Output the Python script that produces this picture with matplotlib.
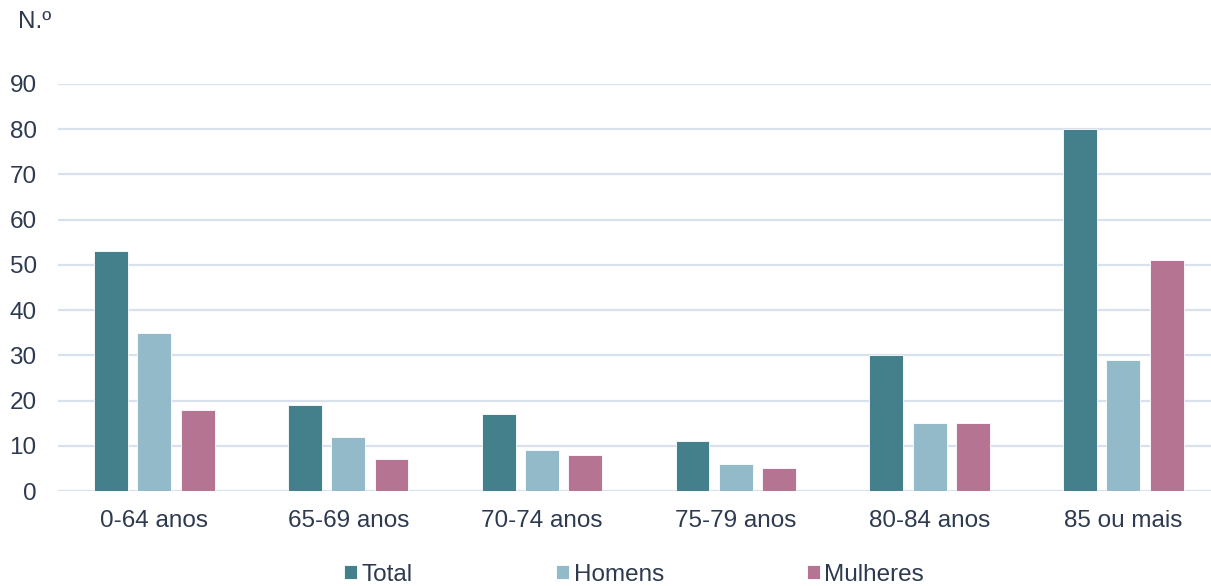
import numpy as np
import matplotlib.pyplot as plt

plt.rcParams['font.family'] = ['Liberation Sans', 'DejaVu Sans']

categories = ['0-64 anos', '65-69 anos', '70-74 anos', '75-79 anos', '80-84 anos', '85 ou mais']
total = [53, 19, 17, 11, 30, 80]
homens = [35, 12, 9, 6, 15, 29]
mulheres = [18, 7, 8, 5, 15, 51]
series_names = ['Total', 'Homens', 'Mulheres']
colors = ['#447f8c', '#93bac9', '#b57592']
text_color = '#2d3a4f'
fs = 17.5

W, H = 1211, 586
fig = plt.figure(figsize=(W / 100, H / 100), dpi=100)
# axes runs a bit past the right edge of the figure, like the original
ax = fig.add_axes([57.5 / W, 1 - 491 / H, (6 * 193.8) / W, (491 - 84) / H])

x = np.arange(len(categories))
width = 0.175
offset = 0.2235
bars = []
for i, (vals, c) in enumerate(zip([total, homens, mulheres], colors)):
    b = ax.bar(x + (i - 1) * offset, vals, width, color=c, edgecolor='white',
               linewidth=0.6, zorder=3)
    bars.append(b)

ax.set_xlim(-0.5, len(categories) - 0.5)
ax.set_ylim(0, 90)
ax.set_yticks(range(0, 91, 10))
ax.set_xticks(x)
ax.set_xticklabels(categories)
ax.grid(axis='y', color='#d9e2ec', linewidth=1.6, zorder=0)
ax.set_axisbelow(True)
for s in ax.spines.values():
    s.set_visible(False)
ax.tick_params(axis='both', length=0, labelsize=fs, colors=text_color)
ax.tick_params(axis='y', pad=15)
ax.tick_params(axis='x', pad=14)

fig.text(18 / W, 1 - 22 / H, 'N.º', fontsize=fs, color=text_color, va='center', ha='left')

# legend entries spread out like the original
leg_x = [344, 556, 807]
for b, name, lx in zip(bars, series_names, leg_x):
    lg = fig.legend([b], [name], loc='center left', bbox_to_anchor=(lx / W, 1 - 575 / H),
                    frameon=False, fontsize=fs, handlelength=0.52, handleheight=0.52,
                    handletextpad=0.2, borderaxespad=0, borderpad=0)
    for t in lg.get_texts():
        t.set_color(text_color)

fig.savefig('out.png', dpi=100)
